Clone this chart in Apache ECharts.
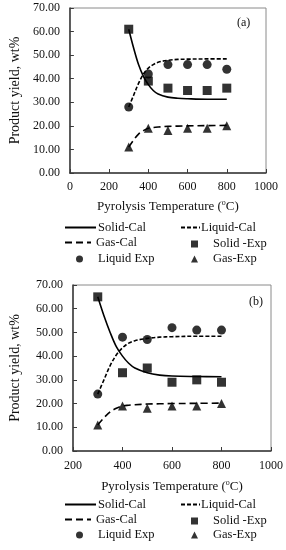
<!DOCTYPE html>
<html><head><meta charset="utf-8">
<script src="https://cdn.jsdelivr.net/npm/echarts@6/dist/echarts.min.js"></script>
<style>html,body{margin:0;padding:0;background:#fff;}#a,#b{width:286px;height:275px;}</style>
</head><body><div id="a"></div><div id="b"></div>
<script>
const yTicks = [0, 10, 20, 30, 40, 50, 60, 70];
const xTicksA = [0, 200, 400, 600, 800, 1000];
const xTicksB = [200, 400, 600, 800, 1000];
const tempExp = [300, 400, 500, 600, 700, 800];
const tempCal = [300, 325, 350, 375, 400, 425, 450, 500, 550, 600, 700, 800];

const solidExpA = [61, 39, 36, 35, 35, 36];
const liquidExpA = [28, 42, 46, 46, 46, 44];
const gasExpA = [11, 19, 18, 19, 19, 20];
const solidCalA = [61, 53, 46, 41, 37.5, 35, 33.5, 32.2, 31.7, 31.5, 31.3, 31.3];
const liquidCalA = [28, 33, 38, 42, 44.5, 46, 47, 47.8, 48.2, 48.3, 48.4, 48.4];
const gasCalA = [11, 14, 16.5, 18, 19, 19.3, 19.5, 19.8, 19.9, 20, 20.1, 20.2];

const solidExpB = [65, 33, 35, 29, 30, 29];
const liquidExpB = [24, 48, 47, 52, 51, 51];
const gasExpB = [11, 19, 18, 19, 19, 20];
const solidCalB = [65, 57, 50, 44, 40, 37, 35, 33, 32, 31.6, 31.4, 31.3];
const liquidCalB = [24, 30, 36, 40.5, 43.5, 45.5, 46.5, 47.5, 48, 48.2, 48.4, 48.4];
const gasCalB = [11, 14, 16.5, 18, 19, 19.3, 19.5, 19.8, 19.9, 20, 20.1, 20.2];

const seriesNames = ['Solid-Cal', 'Liquid-Cal', 'Gas-Cal', 'Solid -Exp', 'Liquid Exp', 'Gas-Exp'];
const panelLabels = ['(a)', '(b)'];

const FONT = 'Liberation Serif';
const zip = (xs, ys) => xs.map((x, i) => [x, ys[i]]);

function build(el, d) {
  const chart = echarts.init(el, null, {renderer: 'canvas'});
  const ts = {fontFamily: FONT, fontSize: 12, color: '#111'};
  const lineSeries = (name, data, dash) => ({
    name, type: 'line', data, smooth: 0.35, symbol: 'none', showSymbol: false,
    lineStyle: {color: '#000', width: 1.6, type: dash},
    itemStyle: {color: '#000'}, z: 2
  });
  const scatterSeries = (name, data, symbol, size) => ({
    name, type: 'scatter', data, symbol, symbolSize: size, itemStyle: {color: '#000'}, z: 3
  });
  const L = d.legend;
  const legLine = (name, left, centerY, w, shift) => ({
    data: [name], left, top: centerY - 5, itemWidth: w, itemHeight: 10, itemGap: 0, padding: 0,
    itemStyle: {opacity: 0, color: 'rgba(0,0,0,0)', borderWidth: 0},
    textStyle: Object.assign({}, ts, {fontSize: 12.5, padding: [0, 0, 0, shift]}), selectedMode: false
  });
  const legMark = (name, left, centerY, s, shift) => ({
    data: [name], left, top: centerY - s / 2, itemWidth: s, itemHeight: s, itemGap: 0, padding: 0,
    textStyle: Object.assign({}, ts, {fontSize: 12.5, padding: [0, 0, 0, shift]}), selectedMode: false
  });
  chart.setOption({
    animation: false,
    textStyle: ts,
    grid: {left: d.grid[0], top: d.grid[1], right: d.grid[2], bottom: d.grid[3], show: true, borderColor: '#8a8a8a', borderWidth: 1},
    xAxis: {
      type: 'value', min: d.xTicks[0], max: d.xTicks[d.xTicks.length - 1], interval: 200,
      name: 'Pyrolysis Temperature ({s|o}C)', nameLocation: 'middle', nameGap: d.xNameGap,
      nameTextStyle: Object.assign({}, ts, {fontSize: 13, rich: {s: {fontFamily: FONT, fontSize: 8, verticalAlign: 'top', padding: [0, 0, 7, 0], color: '#111'}}}),
      axisLine: {show: true, lineStyle: {color: '#3a3a3a', width: 1.5}},
      axisTick: {show: true, inside: true, length: 4, lineStyle: {color: '#3a3a3a'}},
      axisLabel: Object.assign({}, ts, {margin: d.xLabelMargin, formatter: v => String(v)}),
      splitLine: {show: false}
    },
    yAxis: {
      type: 'value', min: yTicks[0], max: yTicks[yTicks.length - 1], interval: 10,
      name: 'Product yield, wt%', nameLocation: 'middle', nameGap: d.yNameGap, nameRotate: 90,
      nameTextStyle: Object.assign({}, ts, {fontSize: 14}),
      axisLine: {show: true, lineStyle: {color: '#3a3a3a', width: 1.5}},
      axisTick: {show: true, inside: true, length: 4, lineStyle: {color: '#3a3a3a'}},
      axisLabel: Object.assign({}, ts, {margin: 10, formatter: v => v.toFixed(2)}),
      splitLine: {show: false}
    },
    graphic: [{type: 'text', left: d.tag[0], top: d.tag[1], style: {text: d.tagText, font: '12px ' + FONT, fill: '#111'}}],
    legend: [
      legLine(seriesNames[0], 64, L.r1, 31, -3),
      legLine(seriesNames[1], 180, L.r1, 19, -4),
      legLine(seriesNames[2], 64, L.r2, 26, 0),
      legMark(seriesNames[3], 191, L.r2, 7, 10),
      legMark(seriesNames[4], 76, L.r3, 7, 10),
      legMark(seriesNames[5], 191, L.r3, 7, 10)
    ],
    series: [
      lineSeries(seriesNames[0], zip(tempCal, d.solidCal), 'solid'),
      lineSeries(seriesNames[1], zip(tempCal, d.liquidCal), [4, 2]),
      lineSeries(seriesNames[2], zip(tempCal, d.gasCal), [7, 4]),
      scatterSeries(seriesNames[3], zip(tempExp, d.solidExp), 'rect', 9),
      scatterSeries(seriesNames[4], zip(tempExp, d.liquidExp), 'circle', 9),
      scatterSeries(seriesNames[5], zip(tempExp, d.gasExp), 'triangle', 9)
    ]
  });
}

build(document.getElementById('a'), {
  grid: [64, 8, 20, 102], xTicks: xTicksA, xNameGap: 26, xLabelMargin: 8, yNameGap: 45,
  tag: [237, 17], tagText: panelLabels[0],
  legend: {r1: 226, r2: 241, r3: 256},
  solidExp: solidExpA, liquidExp: liquidExpA, gasExp: gasExpA,
  solidCal: solidCalA, liquidCal: liquidCalA, gasCal: gasCalA
});
build(document.getElementById('b'), {
  grid: [71, 10, 15, 99], xTicks: xTicksB, xNameGap: 28, xLabelMargin: 9, yNameGap: 51,
  tag: [249, 21], tagText: panelLabels[1],
  legend: {r1: 228, r2: 243, r3: 257},
  solidExp: solidExpB, liquidExp: liquidExpB, gasExp: gasExpB,
  solidCal: solidCalB, liquidCal: liquidCalB, gasCal: gasCalB
});
</script></body></html>
